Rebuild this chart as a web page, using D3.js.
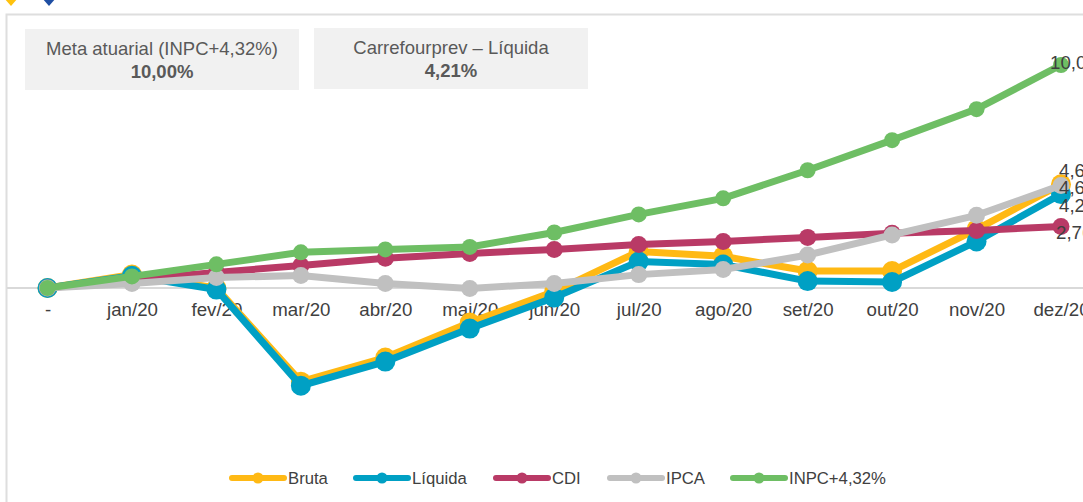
<!DOCTYPE html>
<html>
<head>
<meta charset="utf-8">
<script src="https://cdn.jsdelivr.net/npm/d3@7"></script>
<style>
html, body { margin: 0; padding: 0; background: #fff; overflow: hidden; }
text { font-family: "Liberation Sans", Arial, sans-serif; }
</style>
</head>
<body>
<div id="chart"></div>
<script>
const categories = ["-", "jan/20", "fev/20", "mar/20", "abr/20", "mai/20", "jun/20", "jul/20", "ago/20", "set/20", "out/20", "nov/20", "dez/20"];
const bruta = [0, 0.60, 0.00, -4.20, -3.12, -1.55, -0.16, 1.64, 1.42, 0.76, 0.76, 2.63, 4.65];
const liquida = [0, 0.55, -0.07, -4.38, -3.30, -1.82, -0.43, 1.19, 1.05, 0.31, 0.27, 2.09, 4.21];
const cdi = [0, 0.38, 0.70, 1.01, 1.33, 1.55, 1.73, 1.95, 2.09, 2.27, 2.45, 2.58, 2.76];
const ipca = [0, 0.20, 0.47, 0.56, 0.20, -0.02, 0.20, 0.60, 0.83, 1.48, 2.38, 3.26, 4.60];
const inpc = [0, 0.52, 1.06, 1.60, 1.73, 1.84, 2.49, 3.30, 4.02, 5.28, 6.63, 8.02, 10.00];
const seriesNames = ["Bruta", "Líquida", "CDI", "IPCA", "INPC+4,32%"];
const endLabels = ["4,65%", "4,21%", "2,76%", "4,60%", "10,00%"];
const boxTitles = ["Meta atuarial (INPC+4,32%)", "Carrefourprev – Líquida"];
const boxValues = ["10,00%", "4,21%"];

const width = 1083, height = 502;
const seriesValues = [bruta, liquida, cdi, ipca, inpc];
const colors = ["#ffb914", "#00a0c4", "#b93a66", "#c0c0c0", "#6ebe64"];
const radius = [10, 10, 8.5, 8.5, 8];
const labelDx = [-2, -2, -5, -2, -11];
const labelDy = [-14, 11, 6, 2, -3];
const textColor = "#404040";

const svg = d3.select("#chart").append("svg")
    .attr("width", width)
    .attr("height", height)
    .style("display", "block");

// top of the two cropped logo diamonds
svg.selectAll("path.logo")
    .data([{x: 11, c: "#ffc20e"}, {x: 49, c: "#1f4fa3"}])
    .enter()
    .append("path")
    .attr("class", "logo")
    .attr("d", d => "M" + (d.x - 7) + ",-2L" + d.x + ",6L" + (d.x + 7) + ",-2Z")
    .attr("fill", d => d.c);

// panel border
svg.append("path")
    .attr("d", "M6.5," + height + "V14.5H" + width)
    .attr("fill", "none")
    .attr("stroke", "#dedede")
    .attr("stroke-width", 2);

const xScale = d3.scalePoint()
    .domain(categories)
    .range([47.5, 1061]);

const yScale = d3.scaleLinear()
    .domain([0, 10])
    .range([288, 65]);

// zero line
svg.append("line")
    .attr("x1", 7)
    .attr("x2", width)
    .attr("y1", yScale(0))
    .attr("y2", yScale(0))
    .attr("stroke", "#d9d9d9")
    .attr("stroke-width", 2);

const xAxis = d3.axisBottom(xScale).tickSize(0).tickPadding(15);
const axisG = svg.append("g")
    .attr("transform", "translate(0," + yScale(0) + ")")
    .call(xAxis);
axisG.select(".domain").remove();
axisG.selectAll("text")
    .attr("font-family", "Liberation Sans")
    .attr("font-size", 18.7)
    .attr("fill", textColor);

const line = d3.line()
    .x((d, i) => xScale(categories[i]))
    .y(d => yScale(d));

seriesValues.forEach(function (values, s) {
    const g = svg.append("g").attr("class", "series");
    g.append("path")
        .datum(values)
        .attr("d", line)
        .attr("fill", "none")
        .attr("stroke", colors[s])
        .attr("stroke-width", 7);
    g.selectAll("circle")
        .data(values)
        .enter()
        .append("circle")
        .attr("cx", (d, i) => xScale(categories[i]))
        .attr("cy", d => yScale(d))
        .attr("r", radius[s])
        .attr("fill", colors[s]);
});

seriesValues.forEach(function (values, s) {
    const last = values.length - 1;
    svg.append("text")
        .attr("x", xScale(categories[last]) + labelDx[s])
        .attr("y", yScale(values[last]) + labelDy[s])
        .attr("dy", "0.35em")
        .attr("font-size", 18.7)
        .attr("fill", textColor)
        .text(endLabels[s]);
});

// summary boxes
const boxScale = d3.scaleBand()
    .domain(boxTitles)
    .range([25, 588])
    .paddingInner(0.052);
const boxes = svg.selectAll("g.box")
    .data(boxTitles)
    .enter()
    .append("g")
    .attr("class", "box")
    .attr("transform", (d, i) => "translate(" + boxScale(d) + "," + (i == 0 ? 29 : 28) + ")");
boxes.append("rect")
    .attr("width", 274)
    .attr("height", 61)
    .attr("fill", "#f1f1f1");
boxes.append("text")
    .attr("x", 137)
    .attr("y", 26)
    .attr("text-anchor", "middle")
    .attr("font-size", 18.5)
    .attr("fill", "#595959")
    .text(d => d);
boxes.append("text")
    .attr("x", 137)
    .attr("y", 49)
    .attr("text-anchor", "middle")
    .attr("font-size", 18.5)
    .attr("font-weight", "bold")
    .attr("fill", "#595959")
    .text((d, i) => boxValues[i]);

// legend
const legendX = [230, 354, 494, 608, 731];
const legend = svg.selectAll("g.legend")
    .data(seriesNames)
    .enter()
    .append("g")
    .attr("class", "legend")
    .attr("transform", (d, i) => "translate(" + legendX[i] + ",478)");
legend.append("line")
    .attr("x1", 2)
    .attr("x2", 54)
    .attr("stroke", (d, i) => colors[i])
    .attr("stroke-width", 6)
    .attr("stroke-linecap", "round");
legend.append("circle")
    .attr("cx", 28)
    .attr("r", 5.5)
    .attr("fill", (d, i) => colors[i]);
legend.append("text")
    .attr("x", 58)
    .attr("dy", "0.35em")
    .attr("font-size", 16.7)
    .attr("fill", textColor)
    .text(d => d);
</script>
</body>
</html>
